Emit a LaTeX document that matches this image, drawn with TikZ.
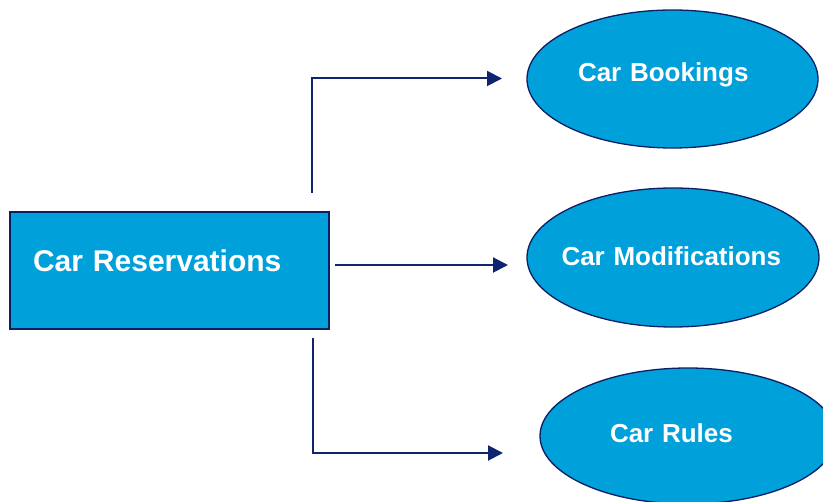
\documentclass[tikz,border=0pt]{standalone}
\usepackage{fontspec}
\setmainfont{Liberation Sans}
\usetikzlibrary{shapes.geometric,arrows.meta}
\definecolor{boxfill}{RGB}{0,160,218}
\definecolor{boxline}{RGB}{12,30,100}
\definecolor{arrowcol}{RGB}{14,36,110}
\tikzset{
  mainbox/.style={draw=boxline, line width=1.5pt, fill=boxfill, rectangle,
    minimum width=319pt, minimum height=117pt, inner ysep=0pt,
    text=white, font=\fontsize{30}{32}\selectfont\bfseries, align=left},
  oval/.style={draw=boxline, line width=1.3pt, fill=boxfill, ellipse,
    inner xsep=-40pt, inner ysep=0pt,
    text=white, font=\fontsize{26}{28}\selectfont\bfseries, align=left},
  conn/.style={draw=arrowcol, line width=2pt, -{Triangle[length=15pt,width=15pt]}}
}
\begin{document}
\begin{tikzpicture}[x=1pt,y=-1pt]
\useasboundingbox (0,0) rectangle (823,502);
\clip (0,0) rectangle (823,502);
\node[mainbox, inner xsep=23pt, text width=273pt, text height=22pt, text depth=19pt] (res) at (169.5,270.5) {Car Reservations};
\node[oval, minimum width=291pt, minimum height=138pt, text width=189pt, text height=19pt, text depth=13pt] (book) at (672.5,79) {Car Bookings};
\node[oval, minimum width=292pt, minimum height=139pt, text width=223pt, text height=19pt, text depth=2pt] (mod) at (673,257.5) {Car Modifications};
\node[oval, minimum width=296pt, minimum height=136pt, text width=156pt, text height=19pt, text depth=5pt] (rules) at (688,436) {Car Rules};
\coordinate (s1) at (311.5,193);
\coordinate (t1) at (502,78.5);
\coordinate (s2) at (335,265);
\coordinate (t2) at (508,265);
\coordinate (s3) at (312.5,338);
\coordinate (t3) at (503,453);
\draw[conn] (s1) |- (t1);
\draw[conn] (s2) -- (t2);
\draw[conn] (s3) |- (t3);
\end{tikzpicture}
\end{document}
